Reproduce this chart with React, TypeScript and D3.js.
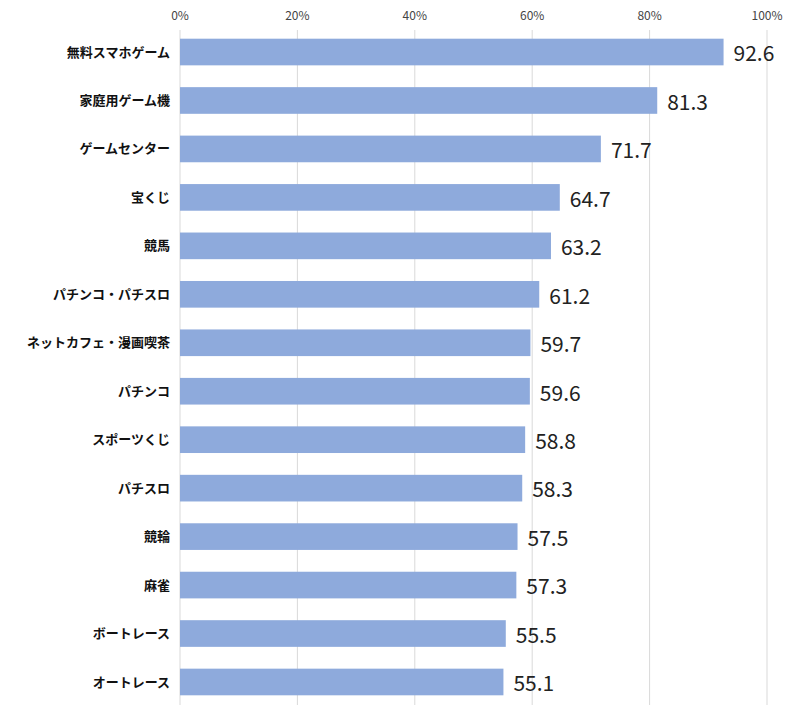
import * as d3 from 'd3';

const categories = ['無料スマホゲーム', '家庭用ゲーム機', 'ゲームセンター', '宝くじ', '競馬', 'パチンコ・パチスロ', 'ネットカフェ・漫画喫茶', 'パチンコ', 'スポーツくじ', 'パチスロ', '競輪', '麻雀', 'ボートレース', 'オートレース'];
const values = [92.6, 81.3, 71.7, 64.7, 63.2, 61.2, 59.7, 59.6, 58.8, 58.3, 57.5, 57.3, 55.5, 55.1];
const ticks = [0, 20, 40, 60, 80, 100];

const W = 801;
const H = 720;
const font = '"Noto Sans CJK JP", "Noto Sans", sans-serif';

export default function App() {
  const x = d3.scaleLinear().domain([0, 100]).range([180, 767]);
  const y = d3.scaleBand().domain(categories).range([29, 705]).paddingInner(0.45).paddingOuter(0.2);

  return (
    <svg width={W} height={H} style={{ position: 'absolute', left: 0, top: 0, background: '#fff' }}>
      {ticks.map((t) => (
        <g key={t}>
          <line x1={x(t)} x2={x(t)} y1={30} y2={705} stroke="#d9d9d9" strokeWidth={1} />
          <text x={x(t)} y={20} textAnchor="middle" fontSize={12} fill="#444" fontFamily={font}>{t}%</text>
        </g>
      ))}
      {categories.map((c, i) => (
        <g key={c}>
          <rect x={x(0)} y={y(c)!} width={x(values[i]) - x(0)} height={y.bandwidth()} fill="#8eaadc" />
          <text x={170} y={y(c)! + y.bandwidth() / 2} dy="0.35em" textAnchor="end" fontSize={13} fontWeight="bold" fill="#111" fontFamily={font}>{c}</text>
          <text x={x(values[i]) + 10} y={y(c)! + y.bandwidth() / 2 + 2} dy="0.35em" fontSize={21} fill="#222" fontFamily={font}>{values[i].toFixed(1)}</text>
        </g>
      ))}
    </svg>
  );
}
